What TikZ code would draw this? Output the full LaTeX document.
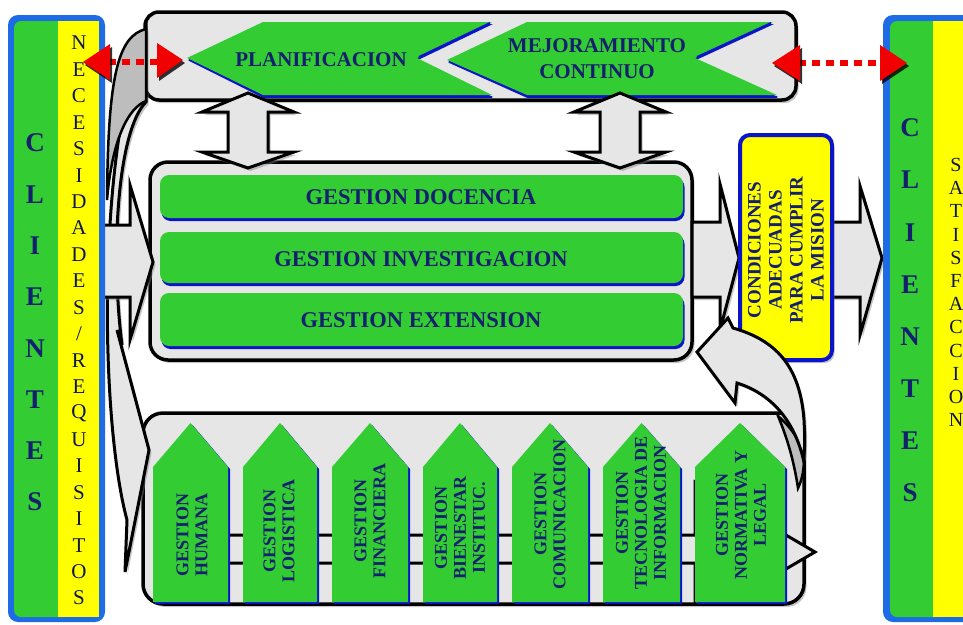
\documentclass[tikz,border=0pt]{standalone}
\usepackage{fontspec}
\setmainfont{Liberation Serif}
\usetikzlibrary{shadows}
\definecolor{gfill}{HTML}{33CC33}
\definecolor{navy}{HTML}{14206E}
\definecolor{ylw}{HTML}{FFFF00}
\definecolor{cblue}{HTML}{1E6BE6}
\definecolor{dblue}{HTML}{0A14C8}
\definecolor{lgray}{HTML}{E6E6E6}
\definecolor{dgray}{HTML}{BDBDBD}
\definecolor{rred}{HTML}{F00000}
\begin{document}
\begin{tikzpicture}[x=1pt,y=-1pt,
  shad/.style={drop shadow={shadow xshift=2.5pt,shadow yshift=-3pt,opacity=0.45}},
  panel/.style={draw=black,line width=3.5pt,fill=lgray,rounded corners=14pt,shad},
  blockarrow/.style={draw=black,line width=3pt,fill=lgray,line join=miter,shad},
  gbar/.style={fill=gfill,rounded corners=9pt,drop shadow={shadow xshift=1.5pt,shadow yshift=-3pt,fill=dblue,opacity=1}},
  house/.style={fill=gfill,drop shadow={shadow xshift=2pt,shadow yshift=-2pt,fill=dblue,opacity=1}},
  chev/.style={fill=gfill,drop shadow={shadow xshift=1pt,shadow yshift=-2pt,fill=dblue,opacity=1}},
  redhead/.style={fill=rred,drop shadow={shadow xshift=2pt,shadow yshift=-3pt,fill=black,opacity=0.8}},
  reddash/.style={draw=rred,line width=6pt,dash pattern=on 8pt off 6pt},
  ttl/.style={text=navy,font=\fontsize{21}{26}\selectfont\bfseries,align=center,inner sep=0pt},
  mt/.style={text=navy,font=\fontsize{22.5}{26}\selectfont\bfseries,align=center,inner sep=0pt},
  vt/.style={text=navy,font=\fontsize{18}{19}\selectfont\bfseries,align=center,inner sep=0pt,rotate=90},
  ct/.style={text=navy,font=\fontsize{19}{21}\selectfont\bfseries,align=center,inner sep=0pt,rotate=90},
  clt/.style={text=navy,font=\fontsize{27}{27}\selectfont\bfseries,inner sep=0pt},
  nt/.style={text=navy!70!black,font=\fontsize{21}{21}\selectfont,inner sep=0pt},
  st/.style={text=navy!70!black,font=\fontsize{20}{20}\selectfont,inner sep=0pt}
]
\clip (0,0) rectangle (963,624);
\fill[white] (0,0) rectangle (963,624);

% ---- top panel
\path[panel] (145,12) rectangle (796,100);
\path[chev] (187,58) -- (263,22) -- (492,22) -- (417,58) -- (492,95) -- (263,95) -- cycle;
\draw[dblue,line width=1.5pt] (189,60) -- (263,97) -- (492,97);
\draw[dblue,line width=2pt] (490,23) -- (419,57);
\path[chev] (447,60) -- (527,22) -- (773,22) -- (695,58) -- (777,95) -- (527,95) -- cycle;
\draw[dblue,line width=1.5pt] (449,62) -- (527,97) -- (777,97);
\draw[dblue,line width=2pt] (771,23) -- (697,57);
\node[ttl] (plan) at (321,60) {PLANIFICACION};
\node[ttl] (mejo) at (597,59) {MEJORAMIENTO\\CONTINUO};

% ---- middle panel
\path[panel,rounded corners=18pt] (150,162) rectangle (692,360);
\path[gbar] (160,175) rectangle (683,218);
\path[gbar] (160,232) rectangle (683,283);
\path[gbar] (160,293) rectangle (683,346);
\node[mt] (doc) at (421,197) {GESTION DOCENCIA};
\node[mt] (inv) at (421,259) {GESTION INVESTIGACION};
\node[mt] (ext) at (421,320) {GESTION EXTENSION};

% ---- vertical double arrows
\foreach \cx in {248,620}
  \path[blockarrow] (\cx,93) -- (\cx+46,112) -- (\cx+20,112) -- (\cx+20,152) -- (\cx+46,152) -- (\cx,168) -- (\cx-46,152) -- (\cx-20,152) -- (\cx-20,112) -- (\cx-46,112) -- cycle;

% ---- bottom panel
\path[panel,rounded corners=20pt] (143,413) rectangle (804,604);
\begin{scope}
  \clip (145,415) rectangle (840,602);
  \path[draw=black,line width=3pt,fill=lgray] (228,535) -- (695,535) -- (695,482) -- (815,552) -- (695,622) -- (695,563) -- (228,563);
\end{scope}

% ---- left curved arrow
\path[blockarrow] (146,102) .. controls (118,130) and (110,250) .. (122,345) -- (117,330) -- (149,450) -- (125,572) -- (127,520) .. controls (100,420) and (96,150) .. (146,28) -- cycle;
\path[fill=dgray,draw=black,line width=2.5pt] (146,29) .. controls (118,36) and (108,75) .. (107,200) .. controls (112,140) and (128,108) .. (146,101) -- cycle;

% ---- horizontal block arrows
\path[blockarrow] (100,225) -- (130,225) -- (130,185) -- (153,262) -- (130,340) -- (130,297) -- (100,297) -- cycle;
\path[blockarrow] (692,222) -- (720,222) -- (720,184) -- (739,258) -- (720,330) -- (720,297) -- (692,297) -- cycle;
\path[blockarrow] (830,222) -- (860,222) -- (860,186) -- (882,258) -- (860,335) -- (860,297) -- (830,297) -- cycle;

% ---- client bars
\fill[cblue,rounded corners=10pt] (8,15) rectangle (105,622);
\fill[gfill,rounded corners=7pt] (14,21) rectangle (70,617);
\fill[ylw] (58,21) rectangle (99,617);
\fill[cblue,rounded corners=10pt] (883,15) rectangle (990,622);
\fill[gfill,rounded corners=7pt] (890,21) rectangle (945,617);
\fill[ylw] (933,21) rectangle (970,617);
\foreach \ch [count=\i] in {C,L,I,E,N,T,E,S}
  \node[clt] (lc\i) at (35,{143+51.3*(\i-1)}) {\ch};
\foreach \ch [count=\i] in {N,E,C,E,S,I,D,A,D,E,S,{/},R,E,Q,U,I,S,I,T,O,S}
  \node[nt] (ln\i) at (79,{43+26.43*(\i-1)}) {\ch};
\foreach \ch [count=\i] in {C,L,I,E,N,T,E,S}
  \node[clt] (rc\i) at (910,{128+52.1*(\i-1)}) {\ch};
\foreach \ch [count=\i] in {S,A,T,I,S,F,A,C,C,I,O,N}
  \node[st] (rs\i) at (956,{165+23.2*(\i-1)}) {\ch};

% ---- condiciones box
\path[fill=ylw,draw=dblue,line width=4pt,rounded corners=10pt,shad] (740,135) rectangle (832,360);
\node[ct] (cond) at (786,250) {CONDICIONES\\ADECUADAS\\PARA CUMPLIR\\LA MISION};

% ---- right curved arrow
\path[draw=black,line width=2.5pt,fill=dgray] (778,416) .. controls (792,428) and (801,442) .. (804,458) .. controls (804,470) and (802,480) .. (798,488) .. controls (794,462) and (788,440) .. (778,416) -- cycle;
\path[blockarrow] (697,352) -- (728,318) -- (733,328) .. controls (775,340) and (800,365) .. (804,420) .. controls (805,440) and (805,450) .. (803,458) .. controls (795,425) and (775,395) .. (737,383) -- (735,403) -- cycle;

% ---- houses
\foreach \l/\r in {153/228,243/317,332/408,423/497,512/588,603/680,695/785}
  \path[house] (\l,602) -- (\l,467) -- ({(\l+\r)/2},423) -- (\r,467) -- (\r,602) -- cycle;
\node[vt] (t1) at (192,535) {GESTION\\HUMANA};
\node[vt] (t2) at (279,531) {GESTION\\LOGISTICA};
\node[vt] (t3) at (370,521) {GESTION\\FINANCIERA};
\node[vt] (t4) at (460,528) {GESTION\\BIENESTAR\\INSTITUC.};
\node[vt] (t5) at (550,514) {GESTION\\COMUNICACION};
\node[vt] (t6) at (641,513) {GESTION\\TECNOLOGIA DE\\INFORMACION};
\node[vt] (t7) at (741,515) {GESTION\\NORMATIVA Y\\LEGAL};

% ---- red dashed arrows
\draw[reddash] (108,62) -- (160,62);
\path[redhead] (83,62) -- (110,44) -- (110,80) -- cycle;
\path[redhead] (183,60) -- (157,43) -- (157,78) -- cycle;
\draw[reddash] (798,63) -- (882,63);
\path[redhead] (772,63) -- (800,45) -- (800,81) -- cycle;
\path[redhead] (907,63) -- (880,45) -- (880,81) -- cycle;
\end{tikzpicture}
\end{document}
